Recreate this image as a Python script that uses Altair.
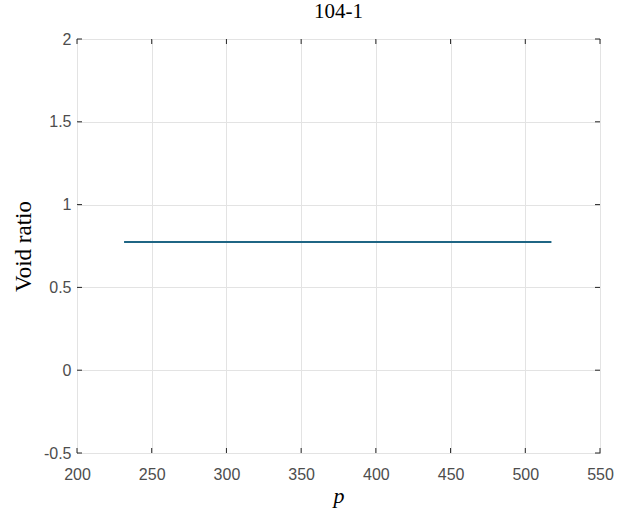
import altair as alt
import pandas as pd

# data
p_values = [231.5, 517.5]
void_ratio = [0.774, 0.774]
x_ticks = [200, 250, 300, 350, 400, 450, 500, 550]
y_ticks = [-0.5, 0, 0.5, 1, 1.5, 2]

W, H = 523, 414
df = pd.DataFrame({"p": p_values, "e": void_ratio})
dfx = pd.DataFrame({"t": x_ticks})
dfy = pd.DataFrame({"t": y_ticks})

xs = alt.Scale(domain=[200, 550], nice=False, zero=False)
ys = alt.Scale(domain=[-0.5, 2], nice=False, zero=False)

label_col = "#4d4d4d"

xaxis = alt.Axis(values=x_ticks, grid=True, gridColor="#e3e3e3", gridWidth=1,
                 ticks=False, domain=False, labelFont="Liberation Sans",
                 labelFontSize=16, labelColor=label_col, labelPadding=13,
                 title="p", titleFont="Liberation Serif", titleFontStyle="italic",
                 titleFontWeight="normal", titleFontSize=22, titleColor="#000000",
                 titlePadding=3, labelFlush=False)
yaxis = alt.Axis(values=y_ticks, grid=True, gridColor="#e3e3e3", gridWidth=1,
                 ticks=False, domain=False, labelFont="Liberation Sans",
                 labelFontSize=16, labelColor=label_col, labelPadding=6,
                 labelExpr="replace(format(datum.value, '~g'), '\u2212', '-')",
                 title="Void ratio", titleFont="Liberation Serif",
                 titleFontWeight="normal", titleFontSize=23, titleColor="#000000",
                 titlePadding=8, labelFlush=False)

line = alt.Chart(df).mark_line(color="#1f6584", strokeWidth=2).encode(
    x=alt.X("p:Q", scale=xs, axis=xaxis),
    y=alt.Y("e:Q", scale=ys, axis=yaxis),
)

tick_col = "#262626"
tb = alt.Chart(dfx).mark_rule(color=tick_col, strokeWidth=1).encode(
    x=alt.X("t:Q", scale=xs), y=alt.value(H), y2=alt.value(H - 5))
tt = alt.Chart(dfx).mark_rule(color=tick_col, strokeWidth=1).encode(
    x=alt.X("t:Q", scale=xs), y=alt.value(0), y2=alt.value(5))
tl = alt.Chart(dfy).mark_rule(color=tick_col, strokeWidth=1).encode(
    y=alt.Y("t:Q", scale=ys), x=alt.value(0), x2=alt.value(5))
tr = alt.Chart(dfy).mark_rule(color=tick_col, strokeWidth=1).encode(
    y=alt.Y("t:Q", scale=ys), x=alt.value(W), x2=alt.value(W - 5))

chart = alt.layer(line, tb, tt, tl, tr).properties(
    width=W, height=H,
    title=alt.TitleParams("104-1", font="Liberation Serif", fontSize=21,
                          fontWeight="normal", color="#000000", offset=9),
    autosize=alt.AutoSizeParams(type="none"),
    padding={"left": 77, "top": 39, "right": 21, "bottom": 57},
    background="#ffffff",
).configure_view(stroke="#333333", strokeWidth=1)

chart.save("out.html", embed_options={"renderer": "svg", "actions": False})
